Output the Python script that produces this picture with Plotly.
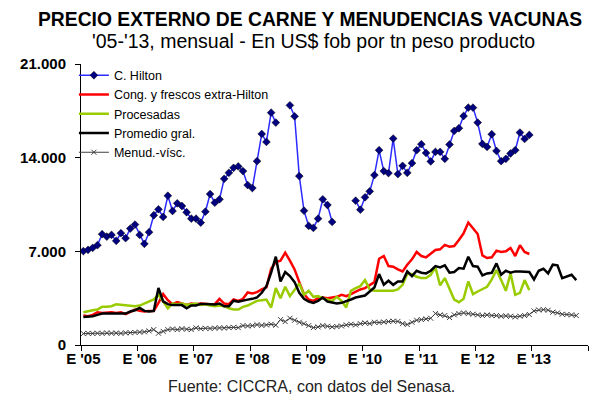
import plotly.graph_objects as go

# month index 0 = Jan 2005 ... 107 = Dec 2013
months = list(range(108))
year_labels = ["E '05", "E '06", "E '07", "E '08", "E '09", "E '10", "E '11", "E '12", "E '13"]

hilton = [
    7015, 7112, 7261, 7462, 8281, 8102, 8229, 7782, 8356, 7983, 8698, 8996,
    8229, 7559, 8430, 9696, 10143, 9569, 11156, 10016, 10590, 10389, 9920, 9443,
    9443, 9145, 9964, 11282, 10634, 10888, 12422, 12868, 13241, 13345, 12995, 11952,
    11729, 13740, 15773, 15177, 17366, 16622, None, None, 17910, 17091, 12623, 10039,
    8899, 8750, 9443, 10888, 10463, 9197, None, None, None, None, 10783, 10113,
    11037, 11483, 12697, 14559, 12995, 12846, 15430, 12771, 13390, 12868, 13591, 14559,
    15006, 14358, 13717, 14432, 14432, 13911, 14983, 15996, 16197, 17113, 17739, 17739,
    16622, 15028, 14805, 15750, 14507, 13740, 13911, 14313, 14559, 15877, 15400, 15698,
]

cong_frescos = [
    2200, 2150, 2250, 2450, 2400, 2450, 2450, 2400, 2450, 2300, 2500, 2650,
    2550, 2500, 2550, 2550, 3150, 3800, 3350, 3050, 3200, 3100, 3000, 3100,
    3050, 3100, 3050, 3050, 3050, 3450, 3100, 3050, 3400, 3300, 3450, 3930,
    3850, 3950, 4150, 4300, 5700, 6200, 6300, 6900, 6300, 5650, 4700, 3800,
    3400, 3300, 3500, 3550, 3500, 3550, 3600, 3750, 3650, 3800, 4000, 4150,
    4250, 4450, 4700, 6450, 6650, 5900, 5850, 5650, 5500, 6000, 6400, 6950,
    6650, 6550, 6800, 7100, 7150, 7480, 7350, 7400, 7850, 8350, 9150, 8750,
    8300, 6700, 6500, 6550, 7050, 6950, 7000, 7250, 6650, 7450, 6950, 6800,
]

procesadas = [
    2450, 2550, 2600, 2650, 2850, 2850, 2900, 3050, 3000, 2950, 2900, 2900,
    2950, 3100, 3200, 3400, 3750, 3200, 2750, 3100, 3050, 3100, 3000, 3050,
    3100, 3000, 3050, 2950, 2900, 2950, 2900, 2750, 2650, 2650, 2850, 2950,
    3150, 3300, 3350, 3400, 2800, 4250, 3500, 4350, 3650, 4150, 4600, 3750,
    4050, 3600, 3650, 3500, 3400, 3300, 3600, 3300, 2800, 4050, 4250, 4400,
    4850, 4150, 4050, 4050, 4000, 4050, 4050, 4150, 4500, 5300, 5300, 5100,
    5000, 5000, 5250, 5800, 4450, 5000, 4150, 3400, 3200, 3450, 4750, 3800,
    4000, 4150, 4350, 4900, 5600, 4850, 4050, 5350, 3750, 3900, 4850, 4100,
]

promedio = [
    2100, 2100, 2150, 2250, 2350, 2350, 2350, 2400, 2400, 2350, 2500, 2600,
    2770, 2550, 2500, 2550, 4260, 3260, 3050, 2980, 2980, 2980, 2740, 2950,
    2950, 3070, 3070, 3070, 3020, 3100, 2890, 2900, 3310, 3230, 3330, 3390,
    3450, 3550, 3900, 4400, 5400, 6600, 4750, 5450, 5150, 4700, 3900, 3450,
    3250, 3150, 3300, 3550, 3250, 3150, 3100, 3150, 3250, 3400, 3550, 3650,
    3700, 4000, 4300, 5300, 4500, 4800, 4500, 4750, 4750, 5500, 5150, 5550,
    5400, 5350, 5550, 5900, 5800, 5950, 5400, 5450, 5750, 5700, 6600, 5900,
    5850, 5200, 5350, 5400, 6100, 5250, 5550, 5400, 5500, 5500, 5500, 5450,
    4900, 5550, 5700, 5350, 6000, 5950, 5000, 5150, 5250, 4850,
]

menudencias = [
    850, 870, 860, 880, 870, 900, 880, 890, 870, 910, 920, 940,
    960, 980, 1050, 1150, 880, 1020, 1150, 1200, 1150, 1220, 1180, 1150,
    1280, 1220, 1250, 1230, 1260, 1280, 1270, 1300, 1320, 1300, 1450, 1420,
    1450, 1520, 1470, 1500, 1550, 1480, 1900, 1750, 2000, 1850, 1700, 1600,
    1450, 1300, 1350, 1450, 1400, 1350, 1380, 1420, 1500, 1550, 1500, 1600,
    1650, 1600, 1700, 1680, 1720, 1750, 1780, 1760, 1600, 1530, 1700, 1850,
    1900, 1950, 2000, 2350, 2250, 2200, 2050, 2250, 2350, 2400, 2350, 2300,
    2250, 2200, 2250, 2200, 2200, 2150, 2180, 2150, 2100, 2150, 2200, 2280,
    2550, 2620, 2640, 2600, 2450, 2400, 2300, 2280, 2250, 2200,
]

fig = go.Figure()

fig.add_trace(go.Scatter(
    x=months, y=hilton, name="C. Hilton", mode="lines+markers",
    line=dict(color="#2b2bff", width=1.5),
    marker=dict(symbol="diamond", size=6, color="#000080",
                line=dict(color="#000000", width=0.5)),
    connectgaps=False))
fig.add_trace(go.Scatter(
    x=months, y=cong_frescos, name="Cong. y frescos extra-Hilton", mode="lines",
    line=dict(color="#ff0000", width=2.5)))
fig.add_trace(go.Scatter(
    x=months, y=procesadas, name="Procesadas", mode="lines",
    line=dict(color="#99cc00", width=2.5)))
fig.add_trace(go.Scatter(
    x=months, y=promedio, name="Promedio gral.", mode="lines",
    line=dict(color="#000000", width=2.5)))
fig.add_trace(go.Scatter(
    x=months, y=menudencias, name="Menud.-vísc.", mode="lines+markers",
    line=dict(color="#404040", width=1),
    marker=dict(symbol="x-thin", size=5, color="#404040",
                line=dict(color="#404040", width=1))))

# page body adds an 8px offset, so the figure is 8px smaller and margins shifted
fig.update_layout(
    width=601, height=393,
    margin=dict(l=70, r=21, t=56, b=56),
    paper_bgcolor="white", plot_bgcolor="white",
    font=dict(family="Liberation Sans, Arial", color="black"),
    separators=",.",
    showlegend=True,
    legend=dict(x=-0.014, y=1.012, xanchor="left", yanchor="top",
                bgcolor="rgba(0,0,0,0)", font=dict(size=12.5),
                itemclick=False),
    annotations=[
        dict(text="<b>PRECIO EXTERNO DE CARNE Y MENUDENCIAS VACUNAS</b>",
             x=0.451, y=1.16, xref="paper", yref="paper", showarrow=False,
             xanchor="center", yanchor="middle", font=dict(size=19.3)),
        dict(text="'05-'13, mensual - En US$ fob por tn peso producto",
             x=0.459, y=1.082, xref="paper", yref="paper", showarrow=False,
             xanchor="center", yanchor="middle", font=dict(size=19.5)),
        dict(text="Fuente: CICCRA, con datos del Senasa.",
             x=0.455, y=-0.146, xref="paper", yref="paper", showarrow=False,
             xanchor="center", yanchor="middle", font=dict(size=16, color="#222222")),
    ],
)

fig.update_xaxes(
    range=[-0.5, 107.5], tickvals=[12 * i for i in range(9)], ticktext=year_labels,
    ticks="", showline=True, linecolor="black", linewidth=1,
    showgrid=False, zeroline=False,
    tickfont=dict(size=15, family="Liberation Sans, Arial", weight="bold"),
    ticklabelstandoff=0,
    minor=dict(tickvals=[12 * i - 0.5 for i in range(10)], ticks="outside",
               ticklen=5, tickcolor="black", showgrid=False),
)
fig.update_yaxes(
    range=[0, 21000], dtick=7000, tickformat=",d",
    ticks="outside", ticklen=5, tickcolor="black",
    showline=True, linecolor="black", linewidth=1,
    showgrid=False, zeroline=False,
    tickfont=dict(size=15, family="Liberation Sans, Arial", weight="bold"),
    ticklabelstandoff=6,
)

fig.write_html("out.html")
